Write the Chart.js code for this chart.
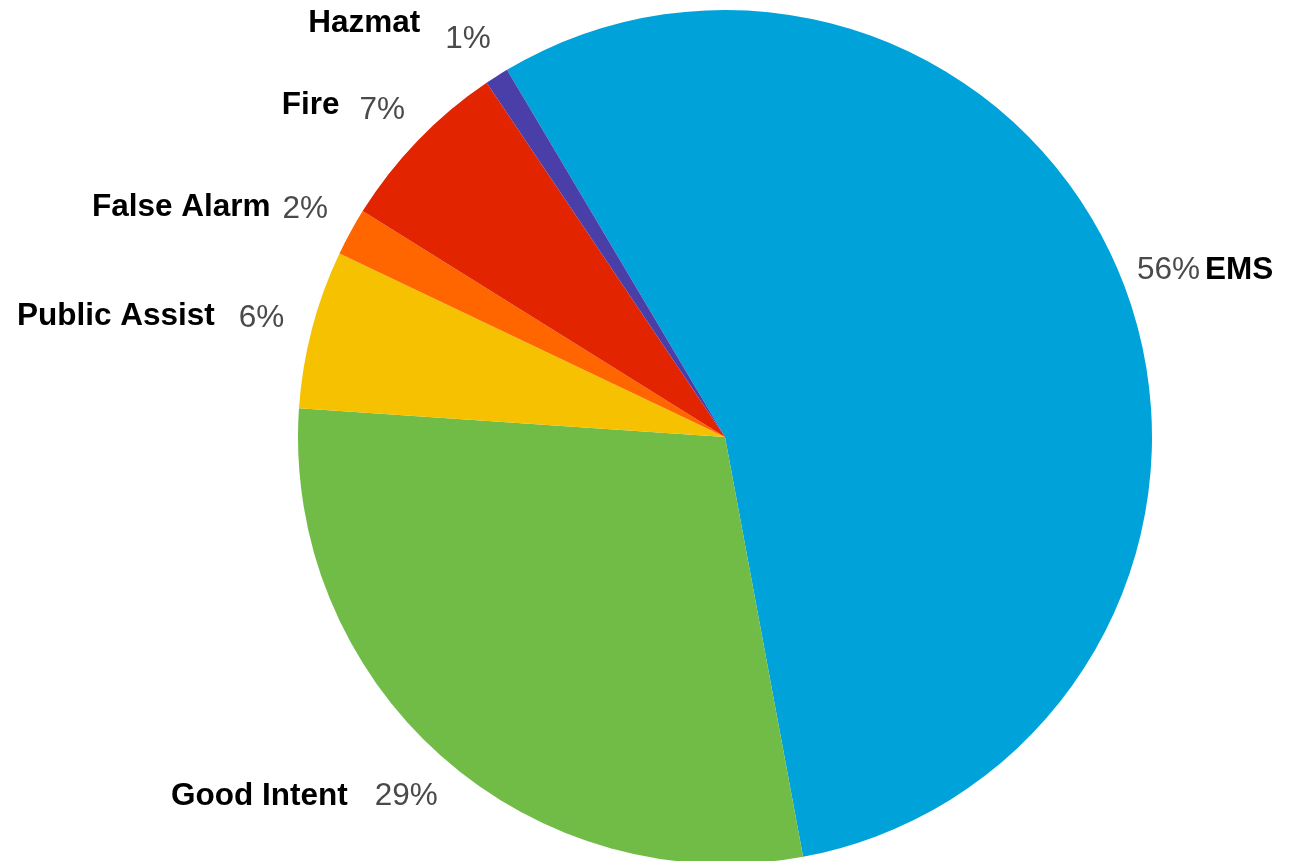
<!DOCTYPE html>
<html>
<head>
<meta charset="utf-8">
<script src="https://cdn.jsdelivr.net/npm/chart.js@4"></script>
<style>
  html, body { margin: 0; padding: 0; background: #ffffff; overflow: hidden; }
  #wrap { position: absolute; left: 0; top: 0; width: 1290px; height: 874px; }
</style>
</head>
<body>
<div id="wrap"><canvas id="c" width="1290" height="874"></canvas></div>
<script>
// ---- data ----
const categories = ['EMS', 'Good Intent', 'Public Assist', 'False Alarm', 'Fire', 'Hazmat'];
const values = [55.6, 29.0, 6.0, 1.8, 6.7, 0.9];
const sliceColors = ['#00A3D9', '#70BC46', '#F6C100', '#FF6600', '#E22400', '#4A3FA8'];

// ---- label layout (style, not data) ----
// per-label nudges: pct dx, pct dy, gap between pct and name, name dy
const labelNudge = [
  [-1, 1, 5, 0],
  [-3, 4, 27, 0],
  [-4, 2, 24, -2],
  [-3, 0, 12, -2],
  [-1, 3, 20, -5],
  [-3, 4, 25, -16]
];

const outsideLabels = {
  id: 'outsideLabels',
  afterDatasetsDraw(chart) {
    const ctx = chart.ctx;
    const meta = chart.getDatasetMeta(0);
    const data = chart.data.datasets[0].data;
    const total = data.reduce((a, b) => a + b, 0);
    ctx.save();
    ctx.textBaseline = 'middle';
    meta.data.forEach((arc, i) => {
      const p = arc.getProps(['x', 'y', 'startAngle', 'endAngle', 'outerRadius'], true);
      const mid = (p.startAngle + p.endAngle) / 2;
      const R = p.outerRadius + 48;
      const n = labelNudge[i];
      const cx = p.x + Math.cos(mid) * R + n[0];
      const cy = p.y + Math.sin(mid) * R + n[1];
      const pct = Math.round(data[i] / total * 100) + '%';
      ctx.font = '31.5px "Liberation Sans", Arial, sans-serif';
      const pw = ctx.measureText(pct).width;
      ctx.fillStyle = '#4a4a4a';
      ctx.textAlign = 'center';
      ctx.fillText(pct, cx, cy);
      ctx.font = 'bold 31.5px "Liberation Sans", Arial, sans-serif';
      ctx.fillStyle = '#000000';
      const right = Math.cos(mid) > 0;
      if (right) {
        ctx.textAlign = 'left';
        ctx.fillText(chart.data.labels[i], cx + pw / 2 + n[2], cy + n[3]);
      } else {
        ctx.textAlign = 'right';
        ctx.fillText(chart.data.labels[i], cx - pw / 2 - n[2], cy + n[3]);
      }
    });
    ctx.restore();
  }
};

new Chart(document.getElementById('c'), {
  type: 'pie',
  data: {
    labels: categories,
    datasets: [{
      data: values,
      backgroundColor: sliceColors,
      borderWidth: 0
    }]
  },
  options: {
    responsive: false,
    animation: false,
    devicePixelRatio: 1,
    rotation: -30.7,
    layout: { padding: { left: 160, right: 0, top: 10, bottom: 10 } },
    plugins: {
      legend: { display: false },
      tooltip: { enabled: false }
    }
  },
  plugins: [outsideLabels]
});
</script>
</body>
</html>
